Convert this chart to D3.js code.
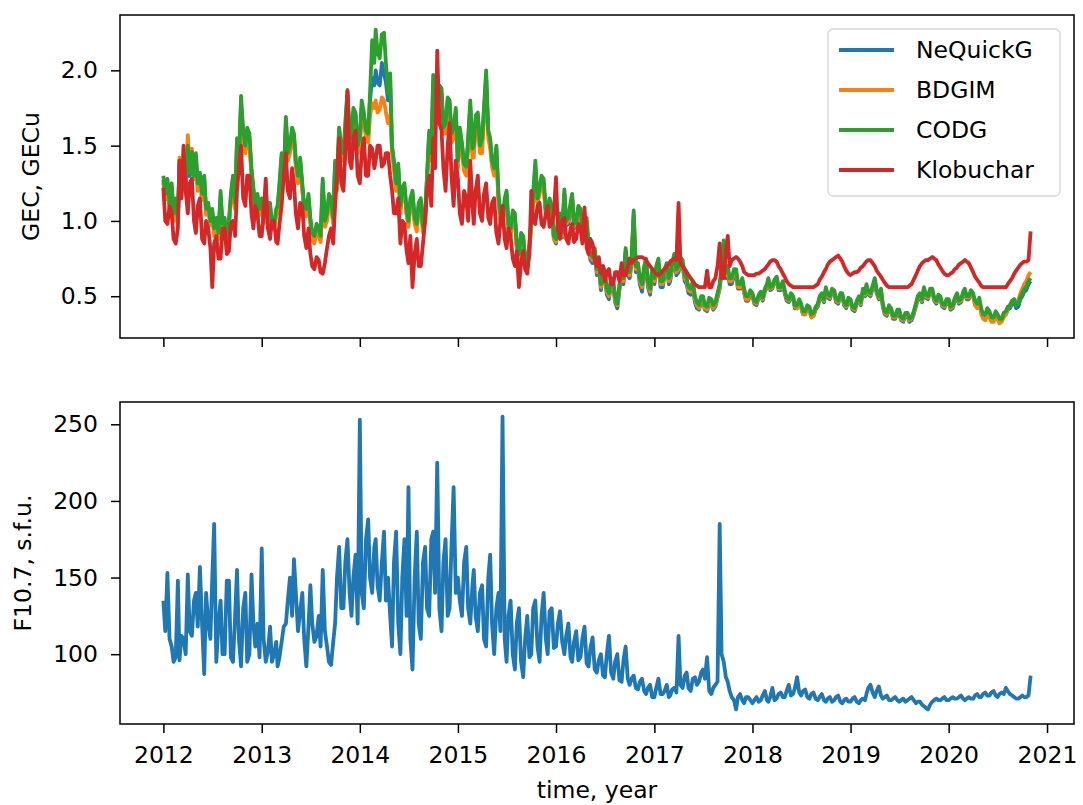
<!DOCTYPE html>
<html><head><meta charset="utf-8">
<script src="https://cdn.jsdelivr.net/npm/d3@7"></script>
<style>
html,body{margin:0;padding:0;background:#fff;}
svg text{font-family:"DejaVu Sans",sans-serif;fill:#000;}
</style></head><body>
<svg id="chart" width="1083" height="805"></svg>
<script>
// sampling: days 1, 8, 16, 24 of each month, Jan 2012 .. Nov 1 2020
const years = [2012,2013,2014,2015,2016,2017,2018,2019,2020];
const sampleDays = [1,8,16,24];
const xTickYears = [2012,2013,2014,2015,2016,2017,2018,2019,2020,2021];
const gecTicks = [0.5,1.0,1.5,2.0];
const f107Ticks = [100,150,200,250];
const seriesNames = ["NeQuickG","BDGIM","CODG","Klobuchar"];
const seriesColors = ["#1f77b4","#ff7f0e","#2ca02c","#d62728"];

const nequickG = [
1.27,1.15,1.25,1.10, 1.22,1.02,1.12,0.99, 1.36,1.18,1.32,1.20, 1.46,1.30,1.43,1.28, 1.42,1.22,1.30,1.15, 1.28,1.05,1.10,0.98, 1.05,0.92,0.99,0.90, 1.16,0.95,1.00,0.86, 0.98,1.15,1.28,1.10, 1.52,1.35,1.78,1.57, 1.48,1.58,1.55,1.32, 1.20,1.08,1.15,1.05,
1.12,1.00,1.03,1.10, 1.10,0.96,0.96,1.05, 1.08,1.22,1.42,1.28, 1.66,1.42,1.48,1.60, 1.55,1.38,1.28,1.40, 1.22,1.08,1.05,1.15, 1.00,0.90,0.88,0.96, 0.93,0.88,1.25,0.98, 1.02,1.15,1.12,1.00, 1.38,1.22,1.60,1.45, 1.42,1.62,1.84,1.55, 1.52,1.72,1.70,1.48,
1.52,1.76,1.70,1.58, 1.55,1.80,1.95,1.90, 2.00,1.92,1.90,2.05, 1.98,1.92,1.80,1.90, 1.48,1.38,1.22,1.35, 1.08,1.20,1.22,1.05, 0.98,1.12,1.18,1.00, 0.95,1.10,1.12,0.94, 1.02,1.28,1.58,1.42, 1.92,1.68,1.70,1.86, 1.85,1.60,1.62,1.80, 1.78,1.55,1.60,1.72,
1.38,1.58,1.50,1.35, 1.34,1.52,1.76,1.46, 1.48,1.66,1.70,1.48, 1.52,1.72,1.95,1.58, 1.52,1.38,1.32,1.48, 1.15,1.02,0.98,1.12, 1.18,0.95,0.92,1.04, 1.02,0.82,0.75,0.88, 0.88,0.72,0.70,0.82, 0.98,1.15,1.36,1.12, 1.20,1.28,1.25,1.05, 1.05,1.12,1.08,0.88,
0.85,0.97,1.02,0.89, 1.18,0.97,0.98,1.08, 1.15,0.95,0.97,1.06, 1.05,0.92,0.92,0.98, 0.82,0.74,0.72,0.78, 0.64,0.71,0.54,0.66, 0.62,0.51,0.48,0.58, 0.56,0.46,0.42,0.54, 0.66,0.58,0.78,0.64, 0.62,0.71,1.02,0.66, 0.68,0.58,0.53,0.66, 0.70,0.56,0.51,0.64,
0.58,0.66,0.71,0.56, 0.56,0.64,0.68,0.58, 0.60,0.68,0.74,0.64, 0.66,0.72,0.70,0.60, 0.58,0.52,0.51,0.56, 0.46,0.42,0.41,0.46, 0.46,0.41,0.40,0.45, 0.45,0.41,0.43,0.49, 0.55,0.66,0.83,0.62, 0.66,0.58,0.58,0.64, 0.64,0.55,0.55,0.58, 0.52,0.47,0.47,0.51,
0.50,0.45,0.44,0.49, 0.51,0.47,0.53,0.56, 0.60,0.54,0.55,0.59, 0.61,0.54,0.54,0.58, 0.52,0.47,0.46,0.50, 0.48,0.42,0.42,0.46, 0.43,0.38,0.38,0.42, 0.41,0.36,0.37,0.41, 0.43,0.48,0.50,0.46, 0.54,0.49,0.48,0.53, 0.52,0.46,0.45,0.50, 0.50,0.44,0.42,0.47,
0.46,0.41,0.40,0.45, 0.48,0.44,0.53,0.50, 0.56,0.51,0.50,0.55, 0.60,0.52,0.48,0.53, 0.43,0.38,0.37,0.42, 0.40,0.35,0.35,0.39, 0.38,0.34,0.33,0.37, 0.37,0.33,0.34,0.38, 0.43,0.48,0.50,0.46, 0.54,0.49,0.48,0.53, 0.53,0.47,0.45,0.49, 0.48,0.43,0.42,0.46,
0.46,0.41,0.42,0.47, 0.50,0.45,0.46,0.51, 0.53,0.48,0.48,0.52, 0.50,0.45,0.43,0.47, 0.40,0.36,0.36,0.40, 0.38,0.35,0.35,0.38, 0.37,0.34,0.34,0.37, 0.38,0.41,0.42,0.45, 0.46,0.42,0.43,0.48, 0.50,0.53,0.54,0.58, 0.60];

const bdgim = [
1.25,1.14,1.24,1.08, 1.20,1.00,1.10,0.98, 1.42,1.22,1.38,1.25, 1.57,1.35,1.48,1.28, 1.40,1.20,1.28,1.14, 1.25,1.04,1.08,0.97, 1.03,0.90,0.98,0.88, 1.12,0.94,0.98,0.85, 0.96,1.12,1.25,1.08, 1.48,1.32,1.75,1.55, 1.45,1.55,1.50,1.30, 1.18,1.06,1.12,1.04,
1.10,0.98,1.02,1.08, 1.08,0.95,0.95,1.04, 1.05,1.20,1.40,1.25, 1.62,1.40,1.45,1.56, 1.52,1.36,1.25,1.38, 1.20,1.06,1.03,1.13, 0.98,0.87,0.85,0.94, 0.90,0.86,1.22,0.96, 1.00,1.12,1.10,0.98, 1.35,1.20,1.62,1.42, 1.40,1.60,1.80,1.52, 1.50,1.68,1.66,1.45,
1.50,1.72,1.66,1.55, 1.52,1.70,1.78,1.75, 1.80,1.72,1.74,1.82, 1.80,1.72,1.65,1.70, 1.45,1.35,1.20,1.32, 1.05,1.18,1.20,1.04, 0.96,1.10,1.15,0.98, 0.93,1.08,1.10,0.92, 1.00,1.25,1.52,1.40, 1.85,1.65,1.66,1.82, 1.80,1.58,1.58,1.76, 1.72,1.52,1.55,1.68,
1.35,1.55,1.46,1.33, 1.30,1.48,1.70,1.42, 1.42,1.62,1.66,1.45, 1.45,1.68,1.90,1.55, 1.48,1.36,1.30,1.45, 1.12,1.00,0.96,1.10, 1.15,0.94,0.90,1.02, 1.00,0.82,0.74,0.88, 0.86,0.72,0.70,0.82, 0.96,1.14,1.35,1.12, 1.18,1.25,1.22,1.04, 1.04,1.10,1.06,0.88,
0.86,0.98,1.03,0.90, 1.18,0.98,1.00,1.10, 1.16,0.96,0.98,1.08, 1.05,0.94,0.93,1.00, 0.83,0.76,0.74,0.80, 0.66,0.73,0.56,0.68, 0.64,0.53,0.50,0.60, 0.58,0.48,0.44,0.56, 0.68,0.60,0.80,0.66, 0.64,0.73,1.04,0.68, 0.70,0.60,0.56,0.68, 0.73,0.58,0.53,0.66,
0.60,0.68,0.73,0.58, 0.58,0.66,0.70,0.60, 0.62,0.70,0.76,0.66, 0.68,0.74,0.72,0.62, 0.60,0.54,0.53,0.58, 0.48,0.44,0.42,0.48, 0.48,0.42,0.41,0.47, 0.46,0.42,0.44,0.50, 0.56,0.68,0.85,0.64, 0.68,0.60,0.60,0.66, 0.66,0.56,0.56,0.60, 0.53,0.48,0.48,0.52,
0.51,0.46,0.45,0.50, 0.52,0.48,0.54,0.57, 0.61,0.55,0.56,0.60, 0.62,0.55,0.55,0.59, 0.53,0.48,0.47,0.51, 0.49,0.43,0.42,0.46, 0.43,0.38,0.38,0.42, 0.41,0.36,0.37,0.42, 0.44,0.49,0.51,0.47, 0.55,0.50,0.49,0.54, 0.53,0.47,0.46,0.51, 0.51,0.45,0.43,0.48,
0.47,0.42,0.41,0.46, 0.49,0.45,0.54,0.51, 0.57,0.52,0.51,0.56, 0.61,0.53,0.49,0.54, 0.44,0.39,0.38,0.43, 0.41,0.36,0.36,0.40, 0.40,0.35,0.34,0.38, 0.38,0.34,0.35,0.39, 0.44,0.49,0.51,0.47, 0.55,0.50,0.49,0.54, 0.54,0.48,0.46,0.50, 0.49,0.44,0.43,0.47,
0.47,0.42,0.43,0.48, 0.51,0.46,0.47,0.52, 0.54,0.49,0.49,0.53, 0.50,0.44,0.42,0.46, 0.38,0.35,0.34,0.37, 0.36,0.33,0.33,0.36, 0.35,0.32,0.33,0.36, 0.38,0.42,0.44,0.47, 0.48,0.45,0.47,0.52, 0.55,0.58,0.60,0.64, 0.66];

const codg = [
1.30,1.18,1.28,1.12, 1.25,1.05,1.15,1.02, 1.40,1.20,1.35,1.22, 1.50,1.32,1.46,1.30, 1.45,1.25,1.32,1.18, 1.30,1.08,1.12,1.00, 1.08,0.95,1.02,0.92, 1.20,0.98,1.02,0.88, 1.00,1.18,1.30,1.12, 1.55,1.38,1.83,1.60, 1.50,1.62,1.58,1.35, 1.22,1.10,1.18,1.08,
1.15,1.02,1.05,1.12, 1.12,0.98,0.98,1.08, 1.10,1.25,1.45,1.30, 1.69,1.45,1.50,1.62, 1.58,1.40,1.30,1.42, 1.25,1.10,1.08,1.18, 1.02,0.92,0.90,0.98, 0.95,0.90,1.28,1.00, 1.05,1.18,1.15,1.02, 1.40,1.25,1.62,1.48, 1.45,1.65,1.87,1.58, 1.55,1.75,1.72,1.50,
1.55,1.80,1.72,1.60, 1.58,1.85,2.20,2.05, 2.27,2.12,2.08,2.24, 2.25,2.05,1.85,1.98, 1.50,1.40,1.25,1.38, 1.10,1.22,1.25,1.08, 1.00,1.15,1.20,1.02, 0.98,1.12,1.15,0.96, 1.05,1.30,1.60,1.45, 1.97,1.70,1.72,1.90, 1.88,1.62,1.65,1.82, 1.80,1.58,1.62,1.75,
1.40,1.62,1.52,1.38, 1.36,1.55,1.80,1.48, 1.50,1.70,1.72,1.50, 1.55,1.75,2.00,1.60, 1.55,1.40,1.35,1.50, 1.18,1.05,1.00,1.15, 1.20,0.98,0.95,1.07, 1.05,0.85,0.78,0.92, 0.90,0.75,0.72,0.85, 1.00,1.18,1.40,1.15, 1.22,1.30,1.28,1.08, 1.08,1.15,1.10,0.90,
0.88,1.00,1.05,0.92, 1.21,1.00,1.02,1.12, 1.18,0.98,1.00,1.10, 1.08,0.96,0.95,1.02, 0.85,0.78,0.76,0.82, 0.68,0.75,0.58,0.70, 0.66,0.55,0.52,0.62, 0.60,0.50,0.45,0.58, 0.70,0.62,0.82,0.68, 0.66,0.75,1.07,0.70, 0.72,0.62,0.58,0.70, 0.75,0.60,0.55,0.68,
0.62,0.70,0.75,0.60, 0.60,0.68,0.72,0.62, 0.64,0.72,0.78,0.68, 0.70,0.76,0.74,0.64, 0.62,0.56,0.55,0.60, 0.50,0.46,0.44,0.50, 0.50,0.44,0.43,0.49, 0.48,0.44,0.46,0.52, 0.58,0.70,0.87,0.66, 0.70,0.62,0.62,0.68, 0.68,0.58,0.58,0.62, 0.55,0.50,0.50,0.54,
0.52,0.47,0.46,0.51, 0.53,0.49,0.55,0.58, 0.62,0.56,0.57,0.61, 0.63,0.56,0.56,0.60, 0.54,0.49,0.48,0.52, 0.50,0.44,0.44,0.48, 0.45,0.40,0.40,0.44, 0.43,0.38,0.39,0.43, 0.45,0.50,0.52,0.48, 0.56,0.51,0.50,0.55, 0.54,0.48,0.47,0.52, 0.52,0.46,0.44,0.49,
0.48,0.43,0.42,0.47, 0.50,0.46,0.55,0.52, 0.58,0.53,0.52,0.57, 0.62,0.54,0.50,0.55, 0.45,0.40,0.39,0.44, 0.42,0.37,0.37,0.41, 0.41,0.36,0.35,0.39, 0.39,0.35,0.36,0.40, 0.45,0.50,0.52,0.48, 0.56,0.51,0.50,0.55, 0.55,0.49,0.47,0.51, 0.50,0.45,0.44,0.48,
0.48,0.43,0.44,0.49, 0.52,0.47,0.48,0.53, 0.55,0.50,0.50,0.54, 0.52,0.47,0.45,0.49, 0.42,0.38,0.38,0.42, 0.40,0.36,0.36,0.40, 0.38,0.35,0.35,0.39, 0.40,0.43,0.44,0.47, 0.48,0.44,0.45,0.50, 0.52,0.55,0.56,0.60, 0.62];

const klobuchar = [
1.22,1.00,0.98,1.10, 1.05,0.88,0.85,0.95, 1.40,1.15,1.50,1.20, 1.05,1.25,1.28,1.00, 0.92,1.10,1.15,0.88, 0.85,1.00,0.95,0.82, 0.56,0.85,0.90,0.75, 0.75,0.95,0.95,0.78, 0.80,0.98,1.00,0.90, 1.20,1.35,1.50,1.15, 1.10,1.30,1.30,1.05, 0.95,1.10,1.05,0.90,
0.90,1.05,1.28,0.95, 0.88,1.00,1.00,0.86, 0.85,0.98,1.10,1.30, 1.45,1.20,1.15,1.35, 1.25,1.05,0.95,1.12, 1.10,0.90,0.82,0.95, 0.78,0.70,0.68,0.76, 0.74,0.66,0.65,0.72, 0.82,0.90,0.95,0.85, 1.10,1.30,1.55,1.25, 1.20,1.45,1.86,1.40, 1.35,1.55,1.60,1.30,
1.25,1.45,1.55,1.30, 1.30,1.50,1.48,1.35, 1.40,1.50,1.50,1.36, 1.38,1.45,1.45,1.30, 1.20,1.05,1.05,1.15, 0.85,1.00,0.98,0.80, 0.72,0.90,0.56,0.78, 0.88,0.70,0.70,0.85, 1.00,1.20,1.30,1.10, 1.55,1.35,2.13,1.65, 1.60,1.35,1.20,1.50, 1.65,1.30,1.10,1.40,
1.28,1.05,0.98,1.20, 1.15,1.00,1.40,1.10, 0.98,1.20,1.30,1.05, 1.00,1.18,1.25,1.02, 0.98,1.12,1.15,0.92, 0.85,1.00,1.10,0.88, 0.82,0.95,0.90,0.75, 0.70,0.80,0.56,0.72, 0.80,0.68,0.65,0.78, 1.20,1.00,0.98,1.10, 1.12,0.98,0.96,1.05, 1.10,0.96,0.98,1.05,
1.29,0.95,0.88,1.00, 1.02,0.88,0.85,0.95, 0.98,0.86,0.88,0.98, 0.95,0.85,1.09,0.82, 0.78,0.88,0.85,0.74, 0.70,0.76,0.65,0.70, 0.60,0.66,0.68,0.58, 0.58,0.66,0.66,0.60, 0.72,0.64,0.64,0.70, 0.75,0.72,0.74,0.75, 0.76,0.76,0.76,0.75, 0.74,0.72,0.70,0.68,
0.66,0.65,0.64,0.65, 0.67,0.68,0.70,0.71, 0.73,0.74,0.75,0.74, 1.12,0.72,0.70,0.68, 0.66,0.64,0.62,0.60, 0.58,0.57,0.56,0.56, 0.56,0.56,0.67,0.56, 0.56,0.60,0.62,0.70, 0.85,0.62,0.62,0.80, 0.90,0.70,0.74,0.75, 0.76,0.75,0.73,0.70, 0.66,0.65,0.64,0.64,
0.64,0.64,0.65,0.65, 0.66,0.67,0.68,0.70, 0.71,0.73,0.74,0.74, 0.73,0.70,0.68,0.65, 0.63,0.60,0.58,0.57, 0.56,0.56,0.56,0.56, 0.56,0.56,0.56,0.56, 0.56,0.56,0.56,0.57, 0.58,0.61,0.63,0.66, 0.68,0.71,0.73,0.74, 0.75,0.76,0.77,0.75, 0.73,0.70,0.67,0.65,
0.64,0.65,0.66,0.66, 0.67,0.69,0.70,0.72, 0.73,0.74,0.74,0.72, 0.70,0.67,0.65,0.63, 0.61,0.59,0.57,0.56, 0.56,0.56,0.56,0.56, 0.56,0.56,0.56,0.56, 0.56,0.57,0.58,0.61, 0.64,0.67,0.70,0.72, 0.73,0.74,0.74,0.75, 0.76,0.75,0.74,0.71, 0.69,0.67,0.65,0.64,
0.64,0.65,0.66,0.68, 0.69,0.71,0.72,0.73, 0.74,0.73,0.72,0.69, 0.66,0.63,0.61,0.59, 0.57,0.56,0.56,0.56, 0.56,0.56,0.56,0.56, 0.56,0.56,0.56,0.56, 0.56,0.58,0.60,0.62, 0.65,0.67,0.69,0.71, 0.72,0.73,0.73,0.74, 0.93];

const f107 = [
135,115,153,110, 105,95,98,148, 96,112,110,100, 152,115,112,135, 140,118,157,120, 87,140,120,110, 150,185,95,120, 135,100,100,148, 148,98,95,125, 155,110,92,130, 140,95,100,152, 120,105,120,98,
169,110,95,102, 118,95,100,108, 92,98,108,118, 120,135,150,125, 162,140,115,128, 140,110,92,118, 145,120,108,112, 125,105,155,115, 105,95,93,108, 120,150,170,130, 130,160,175,140, 125,150,165,120,
253,140,130,175, 188,150,140,170, 175,145,135,160, 180,135,150,125, 105,160,180,120, 100,150,175,125, 209,110,90,150, 180,120,110,160, 170,130,125,175, 180,140,225,130, 115,160,175,125, 130,170,209,140,
150,135,125,160, 170,130,120,145, 155,125,115,140, 145,110,105,150, 165,120,100,130, 140,115,255,110, 95,125,135,100, 90,120,130,95, 85,110,125,98, 100,130,135,105, 95,125,140,110, 100,128,130,104,
105,120,128,108, 100,112,120,98, 95,108,115,96, 98,110,118,94, 92,104,111,90, 88,96,100,86, 85,100,112,88, 84,95,100,83, 82,96,105,84, 80,84,86,78, 77,82,84,76, 74,78,80,72,
72,78,84,74, 74,76,80,72, 73,77,78,75, 112,80,78,86, 88,78,76,84, 85,80,82,88, 90,84,98,76, 74,78,80,82, 185,100,95,85, 82,76,72,70, 64,72,74,70, 68,72,72,70,
68,70,72,69, 70,73,76,70, 69,72,78,70, 71,74,75,72, 72,76,80,73, 74,78,85,75, 73,76,77,72, 71,74,75,71, 70,72,74,70, 69,71,72,69, 70,72,73,69, 68,70,71,69,
69,71,72,69, 68,70,71,70, 74,78,80,75, 72,76,79,73, 71,72,73,70, 70,71,72,70, 69,70,71,69, 70,71,72,70, 68,69,69,67, 66,65,64,67, 69,70,71,70, 70,71,72,70,
70,71,72,71, 71,72,73,71, 70,71,72,71, 71,73,74,72, 72,74,75,73, 73,75,76,73, 72,74,75,74, 78,76,74,73, 72,71,71,72, 73,72,72,73, 86];

// build sample dates
const allDates = [];
years.forEach(y => { for (let m = 0; m < 12; m++) sampleDays.forEach(d => allDates.push(new Date(Date.UTC(y, m, d)))); });
const dates = allDates.slice(0, codg.length);

const gecSeries = [nequickG, bdgim, codg, klobuchar];

const svg = d3.select("#chart");
const L = 120, R = 1074;
const top1 = 15, bot1 = 338, top2 = 402, bot2 = 724;
const FS = 23.5;
const LW = 3.8;

function pad(ext, f) { const s = ext[1] - ext[0]; return [ext[0] - s * f, ext[1] + s * f]; }

const tExt = d3.extent(dates).map(d => +d);
const x = d3.scaleUtc().domain(pad(tExt, 0.05).map(v => new Date(v))).range([L, R]);

const gecAll = [].concat(...gecSeries);
const yTop = d3.scaleLinear().domain(pad(d3.extent(gecAll), 0.05)).range([bot1, top1]);
const yBot = d3.scaleLinear().domain(pad(d3.extent(f107), 0.05)).range([bot2, top2]);

const xTickDates = xTickYears.map(y => new Date(Date.UTC(y, 0, 1)));

function styleAxis(g) {
  g.select(".domain").remove();
  g.selectAll(".tick line").attr("stroke", "#000").attr("stroke-width", 1.5);
  g.selectAll(".tick text").attr("font-size", FS).attr("font-family", "DejaVu Sans").attr("fill", "#000");
}

// panel 1 lines
const line1 = (vals) => d3.line().x((d, i) => x(dates[i])).y(d => yTop(d))(vals);
gecSeries.forEach((vals, i) => {
  svg.append("path").attr("d", line1(vals)).attr("fill", "none")
    .attr("stroke", seriesColors[i]).attr("stroke-width", LW).attr("stroke-linejoin", "round");
});

// panel 2 line
const line2 = d3.line().x((d, i) => x(dates[i])).y(d => yBot(d));
svg.append("path").attr("d", line2(f107)).attr("fill", "none")
  .attr("stroke", "#1f77b4").attr("stroke-width", LW).attr("stroke-linejoin", "round");

// axes panel 1
svg.append("g").attr("transform", `translate(0,${bot1})`)
  .call(d3.axisBottom(x).tickValues(xTickDates).tickFormat("").tickSize(9)).call(styleAxis);
svg.append("g").attr("transform", `translate(${L},0)`)
  .call(d3.axisLeft(yTop).tickValues(gecTicks).tickFormat(d3.format(".1f")).tickSize(9).tickPadding(13)).call(styleAxis);

// axes panel 2
svg.append("g").attr("transform", `translate(0,${bot2})`)
  .call(d3.axisBottom(x).tickValues(xTickDates).tickFormat(d3.utcFormat("%Y")).tickSize(9).tickPadding(13)).call(styleAxis);
svg.append("g").attr("transform", `translate(${L},0)`)
  .call(d3.axisLeft(yBot).tickValues(f107Ticks).tickFormat(d3.format("d")).tickSize(9).tickPadding(13)).call(styleAxis);

// spines
[[top1, bot1], [top2, bot2]].forEach(([t, b]) => {
  svg.append("rect").attr("x", L).attr("y", t).attr("width", R - L).attr("height", b - t)
    .attr("fill", "none").attr("stroke", "#000").attr("stroke-width", 1.5);
});

// axis labels
svg.append("text").attr("transform", `translate(31,${(top1 + bot1) / 2}) rotate(-90)`)
  .attr("text-anchor", "middle").attr("dominant-baseline", "central").attr("font-size", FS).text("GEC, GECu");
svg.append("text").attr("transform", `translate(23,${(top2 + bot2) / 2}) rotate(-90)`)
  .attr("text-anchor", "middle").attr("dominant-baseline", "central").attr("font-size", FS).text("F10.7, s.f.u.");
svg.append("text").attr("x", (L + R) / 2).attr("y", 798).attr("text-anchor", "middle")
  .attr("font-size", FS).text("time, year");

// legend
const lg = svg.append("g");
lg.append("rect").attr("x", 828).attr("y", 29).attr("width", 232).attr("height", 167).attr("rx", 5)
  .attr("fill", "#fff").attr("fill-opacity", 0.8).attr("stroke", "#d6d6d6").attr("stroke-width", 1.4);
seriesNames.forEach((n, i) => {
  const yy = 50 + i * 40;
  lg.append("line").attr("x1", 839).attr("x2", 894).attr("y1", yy).attr("y2", yy)
    .attr("stroke", seriesColors[i]).attr("stroke-width", LW);
  lg.append("text").attr("x", 916).attr("y", yy).attr("dominant-baseline", "central")
    .attr("font-size", FS).text(n);
});
</script>
</body></html>
